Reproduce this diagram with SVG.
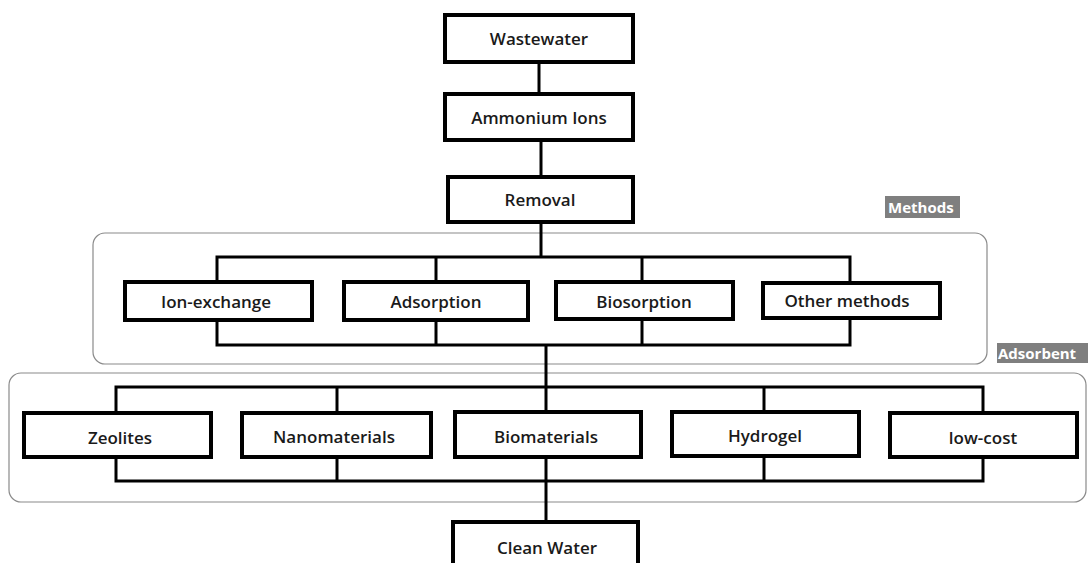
<svg xmlns="http://www.w3.org/2000/svg" width="1088" height="563" viewBox="0 0 1088 563">
<style>
.box{fill:#fff;stroke:#000;stroke-width:4}
.grp{fill:none;stroke:#8a8a8a;stroke-width:1.2}
.t{font-family:"Open Sans","Liberation Sans",sans-serif;font-weight:600;font-size:17px;fill:#1a1a1a;text-anchor:middle}
.lbl{font-family:"Open Sans","Liberation Sans",sans-serif;font-weight:700;font-size:15px;fill:#fff}
.c{fill:none;stroke:#000;stroke-width:3}
</style>
<rect width="1088" height="563" fill="#fff"/>
<g id="groups">
<rect class="grp" x="93" y="233" width="894" height="131" rx="12"/>
<rect class="grp" x="9" y="373" width="1077" height="129" rx="12"/>
<rect x="885" y="196" width="75" height="22" fill="#7f7f7f"/>
<text class="lbl" x="888" y="213">Methods</text>
<rect x="997" y="343" width="91" height="20" fill="#7f7f7f"/>
<text class="lbl" x="998" y="359">Adsorbent</text>
</g>
<g id="connectors">
<line class="c" x1="539" y1="62" x2="539" y2="94"/>
<line class="c" x1="541" y1="140" x2="541" y2="177"/>
<polyline class="c" points="541,222 541,257"/>
<polyline class="c" points="217,282 217,257 850,257 850,283"/>
<line class="c" x1="436" y1="257" x2="436" y2="282"/>
<line class="c" x1="642" y1="257" x2="642" y2="282"/>
<polyline class="c" points="217,320 217,345 850,345 850,318"/>
<line class="c" x1="436" y1="320" x2="436" y2="345"/>
<line class="c" x1="642" y1="319" x2="642" y2="345"/>
<line class="c" x1="546" y1="345" x2="546" y2="412"/>
<polyline class="c" points="116,413 116,387 983,387 983,413"/>
<line class="c" x1="337" y1="387" x2="337" y2="413"/>
<line class="c" x1="764" y1="387" x2="764" y2="412"/>
<polyline class="c" points="116,457 116,481 983,481 983,457"/>
<line class="c" x1="337" y1="457" x2="337" y2="481"/>
<line class="c" x1="764" y1="456" x2="764" y2="481"/>
<line class="c" x1="546" y1="457" x2="546" y2="522"/>
</g>
<g id="wastewater"><rect class="box" x="445" y="15" width="188" height="47"/><text class="t" x="539" y="45">Wastewater</text></g>
<g id="ammonium"><rect class="box" x="445" y="94" width="188" height="46"/><text class="t" x="539" y="124">Ammonium Ions</text></g>
<g id="removal"><rect class="box" x="448" y="177" width="185" height="45"/><text class="t" x="540" y="206">Removal</text></g>
<g id="ion-exchange"><rect class="box" x="125" y="282" width="187" height="38"/><text class="t" x="216" y="308">Ion-exchange</text></g>
<g id="adsorption"><rect class="box" x="344" y="282" width="184" height="38"/><text class="t" x="436" y="308">Adsorption</text></g>
<g id="biosorption"><rect class="box" x="556" y="282" width="177" height="37"/><text class="t" x="644" y="308">Biosorption</text></g>
<g id="other-methods"><rect class="box" x="763" y="283" width="177" height="35"/><text class="t" x="847" y="307">Other methods</text></g>
<g id="zeolites"><rect class="box" x="24" y="413" width="187" height="44"/><text class="t" x="120" y="444">Zeolites</text></g>
<g id="nanomaterials"><rect class="box" x="242" y="413" width="189" height="44"/><text class="t" x="334" y="443">Nanomaterials</text></g>
<g id="biomaterials"><rect class="box" x="455" y="412" width="186" height="45"/><text class="t" x="546" y="443">Biomaterials</text></g>
<g id="hydrogel"><rect class="box" x="672" y="412" width="187" height="44"/><text class="t" x="765" y="442">Hydrogel</text></g>
<g id="low-cost"><rect class="box" x="890" y="413" width="187" height="44"/><text class="t" x="983" y="444">low-cost</text></g>
<g id="clean-water"><rect class="box" x="453" y="522" width="185" height="50"/><text class="t" x="547" y="554">Clean Water</text></g>
</svg>
